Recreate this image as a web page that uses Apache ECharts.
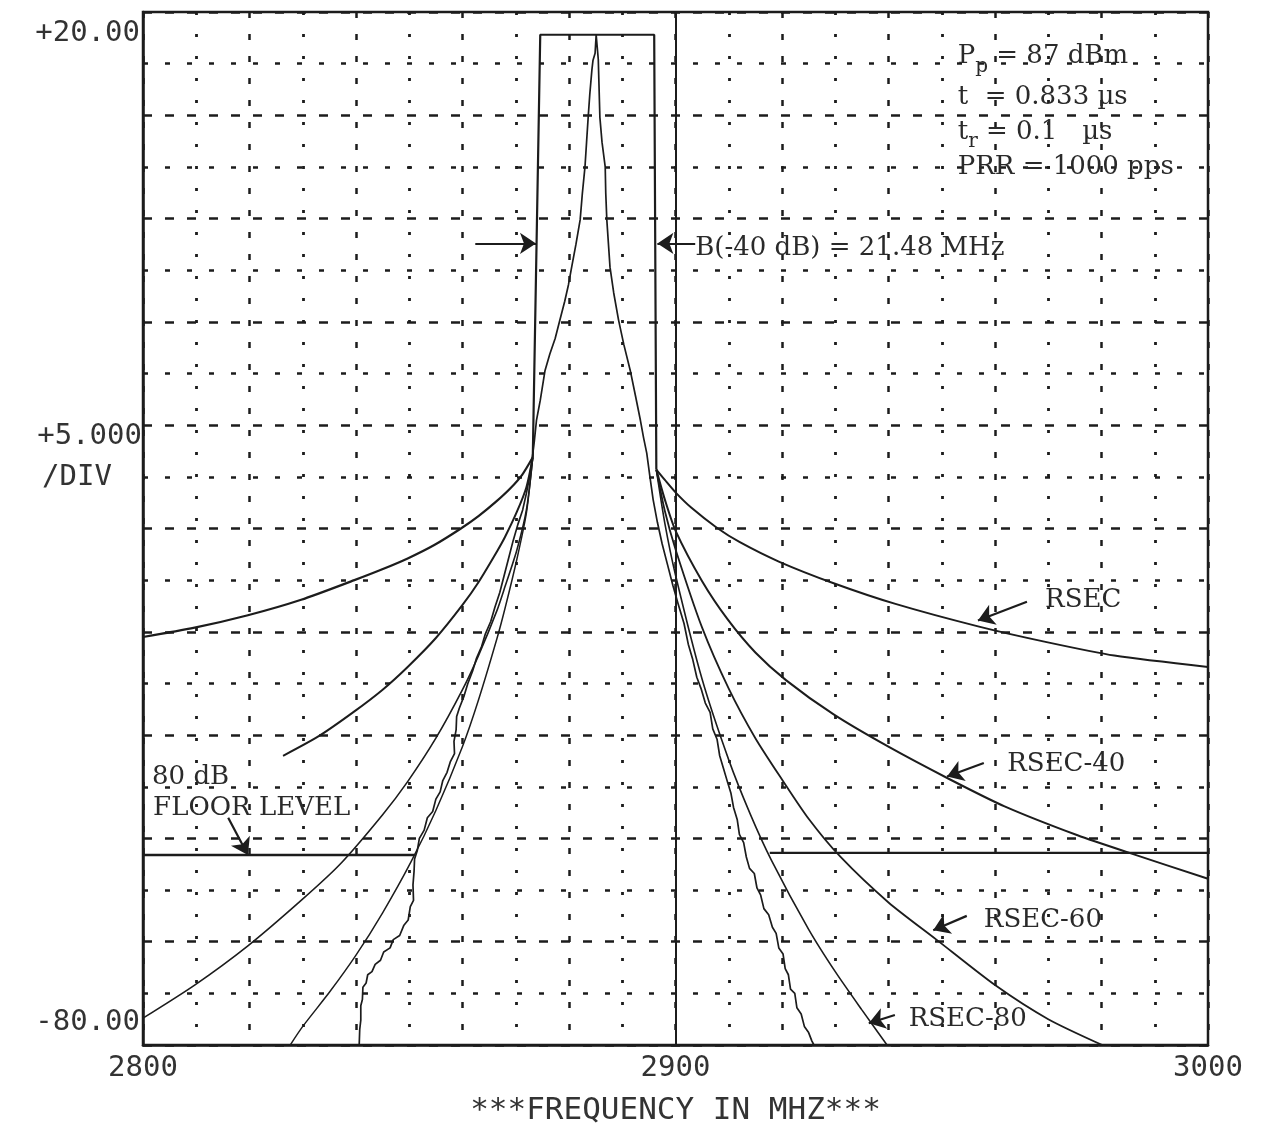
<!DOCTYPE html>
<html><head><meta charset="utf-8">
<script src="https://cdn.jsdelivr.net/npm/echarts@6/dist/echarts.min.js"></script>
<style>html,body{margin:0;padding:0;background:#fff}#c{width:1263px;height:1125px}</style>
</head><body><div id="c"></div>
<script>
// ---------- data (MHz, dB) ----------
const xTickLabels = [2800, 2900, 3000];
const yTickLabels = { '20': '+20.00', '-80': '-80.00' };
const xAxisTitle = '***FREQUENCY IN MHZ***';

const envelope = [[2873.2,-23.1],[2874.6,17.8],[2896.0,17.8],[2896.4,-24.3]];

const measured = [
 [2840.6,-80],[2840.7,-78.5],[2840.9,-77.6],[2840.9,-76.2],[2841.2,-75.6],[2841.3,-74.4],[2841.9,-74.0],[2842.2,-73.2],
 [2843.0,-72.9],[2843.6,-72.2],[2844.6,-71.8],[2845.2,-71.0],[2846.4,-70.6],[2847.0,-69.8],[2848.2,-69.4],[2849.0,-68.4],
 [2849.8,-67.9],[2850.2,-66.6],[2850.8,-66.0],[2850.7,-64.5],[2850.9,-63.2],[2851.0,-62.0],[2851.5,-61.2],[2851.9,-60.0],
 [2852.8,-59.2],[2853.4,-58.0],[2854.4,-57.4],[2855.0,-56.2],[2855.8,-55.5],[2856.3,-54.4],[2857.1,-53.6],[2857.7,-52.6],
 [2858.5,-51.8],[2858.4,-50.6],[2858.8,-49.5],[2858.9,-48.2],[2859.4,-47.4],[2860.3,-46.2],[2861.0,-45.0],[2861.9,-43.8],
 [2862.6,-42.6],[2863.6,-41.4],[2864.3,-40.2],[2865.3,-39.0],[2866.1,-37.6],[2867.0,-36.2],[2867.8,-34.6],[2868.6,-33.0],
 [2869.5,-31.2],[2870.4,-29.6],[2871.3,-28.2],[2872.0,-26.6],[2872.6,-25.0],[2873.1,-23.2],[2873.5,-21.5],[2873.9,-19.5],
 [2874.6,-17.6],[2875.5,-14.7],[2876.4,-13.1],[2877.4,-11.6],[2878.3,-9.8],[2879.2,-8.0],[2879.9,-6.4],[2880.5,-4.7],
 [2881.3,-2.5],[2882.1,-0.1],[2882.5,2.4],[2883.0,5.0],[2883.3,7.4],[2883.6,9.8],[2883.9,12.0],[2884.3,14.4],[2884.5,15.3],
 [2884.9,16.0],[2885.1,17.8],[2885.3,17.8],
 [2885.5,15.4],[2885.6,13.5],[2885.8,9.8],[2886.2,7.4],[2886.8,5.0],[2886.9,2.5],[2887.1,-0.1],[2887.4,-2.4],[2887.7,-4.7],
 [2888.4,-7.2],[2889.3,-9.8],[2890.3,-12.2],[2891.5,-14.7],[2892.5,-17.2],[2893.4,-19.5],[2894.0,-21.2],[2894.6,-22.7],
 [2895.2,-25.0],[2895.8,-27.2],[2896.6,-29.4],[2897.5,-31.5],[2898.5,-33.5],[2899.5,-35.5],[2900.5,-37.3],[2901.6,-39.2],
 [2902.4,-41.2],[2903.2,-42.6],[2904.0,-44.4],[2904.8,-45.5],[2905.6,-46.9],[2906.5,-47.8],[2907.0,-49.4],[2907.8,-50.4],
 [2908.3,-52.0],[2909.0,-53.2],[2909.8,-54.6],[2910.4,-55.6],[2910.9,-57.0],[2911.6,-58.2],[2912.0,-59.6],[2912.8,-60.4],
 [2913.3,-61.8],[2913.9,-62.9],[2914.8,-63.4],[2915.3,-64.8],[2916.0,-65.5],[2916.6,-66.8],[2917.5,-67.4],[2918.2,-68.6],
 [2918.9,-69.2],[2919.4,-70.6],[2920.2,-71.2],[2920.6,-72.6],[2921.2,-73.2],[2921.6,-74.6],[2922.4,-75.0],[2922.8,-76.4],
 [2923.6,-77.0],[2924.2,-78.2],[2925.0,-78.8],[2925.6,-79.6],[2926.0,-80]
];

const rsecL = [[2800,-40.5],[2809.7,-39.6],[2819.7,-38.4],[2829.7,-36.9],[2839.7,-35.0],[2844.7,-34.0],[2849.7,-32.9],[2854.7,-31.6],[2859.7,-30.0],[2863,-28.8],[2866.3,-27.4],[2869,-26.1],[2871.2,-24.8],[2873.2,-23.1]];
const rsecR = [[2896.4,-24.3],[2898,-25.3],[2900,-26.5],[2903,-28.0],[2907.7,-29.9],[2912,-31.3],[2919.4,-33.2],[2929.7,-35.3],[2941.3,-37.3],[2957,-39.5],[2969.7,-41.0],[2982.4,-42.3],[3000,-43.4]];
const rsec40L = [[2826.3,-52.0],[2833,-50.1],[2839.7,-47.7],[2845,-45.6],[2849.7,-43.4],[2855,-40.6],[2860,-37.4],[2863,-35.2],[2866.5,-32.2],[2868,-30.8],[2870.2,-28.4],[2872,-26.0],[2873.2,-23.1]];
const rsec40R = [[2896.4,-24.3],[2898,-27.2],[2900,-30.2],[2905,-35.1],[2909.8,-38.8],[2915,-42.0],[2920.8,-44.7],[2929.7,-48.0],[2939.9,-51.1],[2951.2,-54.2],[2961.8,-56.9],[2975.5,-59.7],[2985.8,-61.5],[3000,-63.9]];
const rsec60L = [[2800,-77.4],[2809.7,-74.2],[2819.7,-70.4],[2829.7,-66.0],[2837,-62.5],[2845,-57.7],[2849.7,-54.5],[2855,-50.3],[2860,-45.6],[2863,-42.3],[2866.5,-37.9],[2868,-35.6],[2870.2,-32.1],[2872,-28.2],[2873.2,-23.1]];
const rsec60R = [[2896.4,-24.3],[2898,-28.3],[2900,-32],[2905,-39.6],[2910,-45.5],[2915,-50.3],[2920,-54.3],[2925,-58.1],[2931,-61.8],[2940,-66.2],[2949,-69.8],[2960,-74.2],[2970,-77.5],[2981,-80.2]];
const rsec80L = [[2827.4,-80.2],[2830,-78.2],[2835,-74.9],[2840,-71.3],[2845,-67.2],[2850.3,-62.3],[2855,-57.3],[2860,-51.1],[2863,-46.6],[2866.5,-40.6],[2868,-37.7],[2870.2,-33.0],[2872,-28.5],[2873.2,-23.1]];
const rsec80R = [[2896.4,-24.3],[2898,-29.5],[2900,-34.5],[2905,-44.6],[2910,-52.4],[2914,-57.6],[2918,-62.1],[2925,-68.8],[2930,-72.9],[2935,-76.6],[2940,-80.2]];

const floorL = [[2800,-61.6],[2851.0,-61.6]];
const floorR = [[2917.7,-61.4],[3000,-61.4]];

// annotation arrows: [from, to] in data units
const arrows = [
  [[2862.4,-2.4],[2873.8,-2.4]],
  [[2903.7,-2.4],[2896.6,-2.4]],
  [[2966.0,-37.1],[2956.8,-38.9]],
  [[2957.9,-52.7],[2951.0,-54.0]],
  [[2954.7,-67.5],[2948.4,-68.9]],
  [[2941.2,-77.1],[2936.3,-77.9]],
  [[2816.0,-58.0],[2819.7,-61.6]]
];

// annotation texts (anchor in data units)
const notes = [
  { x: 2953.0, y: 15.7, text: '{n|P}{s|p}{n| = 87 dBm}' },
  { x: 2953.0, y: 11.7, text: '{n|t  = 0.833 µs}' },
  { x: 2953.0, y: 8.4,  text: '{n|t}{s|r}{n| = 0.1   µs}' },
  { x: 2953.0, y: 5.0,  text: '{n|PRR = 1000 pps}' },
  { x: 2903.7, y: -2.9, text: '{n|B(-40 dB) = 21.48 MHz}' },
  { x: 2969.4, y: -36.9, text: '{n|RSEC}' },
  { x: 2962.3, y: -52.8, text: '{n|RSEC-40}' },
  { x: 2957.9, y: -67.9, text: '{n|RSEC-60}' },
  { x: 2943.8, y: -77.5, text: '{n|RSEC-80}' },
  { x: 2801.7, y: -54.1, text: '{n|80 dB}' },
  { x: 2801.9, y: -57.1, text: '{n|FLOOR LEVEL}' }
];
const sideNotes = [
  { x: 2799.8, y: -21.1, text: '+5.000', align: 'right' },
  { x: 2787.6, y: -25.1, text: '/DIV', align: 'center' }
];

// ---------- chart ----------
const INK = '#1c1c1c';
const LABEL_INK = '#333';
const TYPE_INK = '#2a2a2a';
const FONT_TYPE = '"DejaVu Serif", "Liberation Serif", serif';
const FONT_PLOT = '"DejaVu Sans Mono", monospace';

function curve(name, data, width, smooth) {
  const s = { type: 'line', name, data, symbol: 'none', silent: true, z: 3,
    lineStyle: { color: INK, width }, emphasis: { disabled: true } };
  if (smooth) { s.smooth = 0.25; }
  return s;
}

const chart = echarts.init(document.getElementById('c'), null, { renderer: 'canvas' });

const series = [
  curve('envelope', envelope, 2.2, false),
  Object.assign(curve('measured', measured, 1.7, false), {
    markLine: { silent: true, symbol: 'none', label: { show: false },
      lineStyle: { type: 'solid', color: INK, width: 2 }, emphasis: { disabled: true },
      data: [{ xAxis: 2900 }] }
  }),
  curve('RSEC', rsecL, 2.2, true),
  curve('RSEC', rsecR, 2.0, true),
  curve('RSEC-40', rsec40L, 2.0, true),
  curve('RSEC-40', rsec40R, 2.0, true),
  curve('RSEC-60', rsec60L, 1.6, true),
  curve('RSEC-60', rsec60R, 1.8, true),
  curve('RSEC-80', rsec80L, 1.5, true),
  curve('RSEC-80', rsec80R, 1.6, true),
  Object.assign(curve('floor', floorL, 2.4, false), {
    markLine: { silent: true, symbol: ['none', 'arrow'], symbolSize: 16, label: { show: false },
      lineStyle: { type: 'solid', color: INK, width: 2.2 }, itemStyle: { color: INK }, emphasis: { disabled: true },
      data: arrows.map(a => [{ coord: a[0] }, { coord: a[1] }]) }
  }),
  curve('floor', floorR, 2.4, false)
];

const option = {
  animation: false,
  backgroundColor: '#fff',
  grid: { left: 143, right: 55, top: 12, bottom: 80, show: true, borderColor: INK, borderWidth: 2.5,
    backgroundColor: 'rgba(0,0,0,0)', containLabel: false, outerBoundsMode: 'none' },
  xAxis: {
    type: 'value', min: 2800, max: 3000, interval: 20,
    name: xAxisTitle, nameLocation: 'middle', nameGap: 50,
    nameTextStyle: { fontFamily: FONT_PLOT, fontSize: 31, color: LABEL_INK },
    axisLine: { show: true, onZero: false, lineStyle: { color: INK, width: 2.5 } },
    axisTick: { show: false },
    axisLabel: { margin: 9, fontFamily: FONT_PLOT, fontSize: 29, color: LABEL_INK, hideOverlap: false,
      showMinLabel: true, showMaxLabel: true,
      formatter: v => xTickLabels.includes(v) ? String(v) : '' },
    splitLine: { show: true, lineStyle: { color: INK, width: 2.5, type: [6, 16] } },
    minorTick: { show: false, splitNumber: 2 },
    minorSplitLine: { show: true, lineStyle: { color: INK, width: 2.8, type: [3, 19] } }
  },
  yAxis: {
    type: 'value', min: -80, max: 20, interval: 10,
    axisLine: { show: true, onZero: false, lineStyle: { color: INK, width: 2.5 } },
    axisTick: { show: false },
    axisLabel: { margin: 3, fontFamily: FONT_PLOT, fontSize: 29, color: LABEL_INK, hideOverlap: false,
      showMinLabel: true, showMaxLabel: true,
      formatter: v => v === 20 ? '{t|' + yTickLabels['20'] + '}' : (v === -80 ? '{b|' + yTickLabels['-80'] + '}' : ''),
      rich: {
        t: { padding: [42, 0, 0, 0], fontFamily: FONT_PLOT, fontSize: 29, color: LABEL_INK },
        b: { padding: [0, 0, 46, 0], fontFamily: FONT_PLOT, fontSize: 29, color: LABEL_INK }
      } },
    splitLine: { show: true, lineStyle: { color: INK, width: 2.5, type: [9, 13] } },
    minorTick: { show: false, splitNumber: 2 },
    minorSplitLine: { show: true, lineStyle: { color: INK, width: 2.5, type: [5, 17] } }
  },
  series
};
chart.setOption(option);

const toPx = (x, y) => chart.convertToPixel({ gridIndex: 0 }, [x, y]);
const richType = {
  n: { fontFamily: FONT_TYPE, fontSize: 26, fill: TYPE_INK, color: TYPE_INK },
  s: { fontFamily: FONT_TYPE, fontSize: 20, fill: TYPE_INK, color: TYPE_INK, padding: [20, 0, 0, 0] }
};
const graphics = notes.map(n => {
  const p = toPx(n.x, n.y);
  return { type: 'text', x: p[0], y: p[1], silent: true, z: 10,
    style: { text: n.text, rich: richType, fill: TYPE_INK, font: '26px ' + FONT_TYPE, align: 'left', verticalAlign: 'middle' } };
}).concat(sideNotes.map(n => {
  const p = toPx(n.x, n.y);
  return { type: 'text', x: p[0], y: p[1], silent: true, z: 10,
    style: { text: n.text, fill: LABEL_INK, font: '29px ' + FONT_PLOT, align: n.align, verticalAlign: 'middle' } };
}));
chart.setOption({ graphic: graphics });
</script></body></html>
